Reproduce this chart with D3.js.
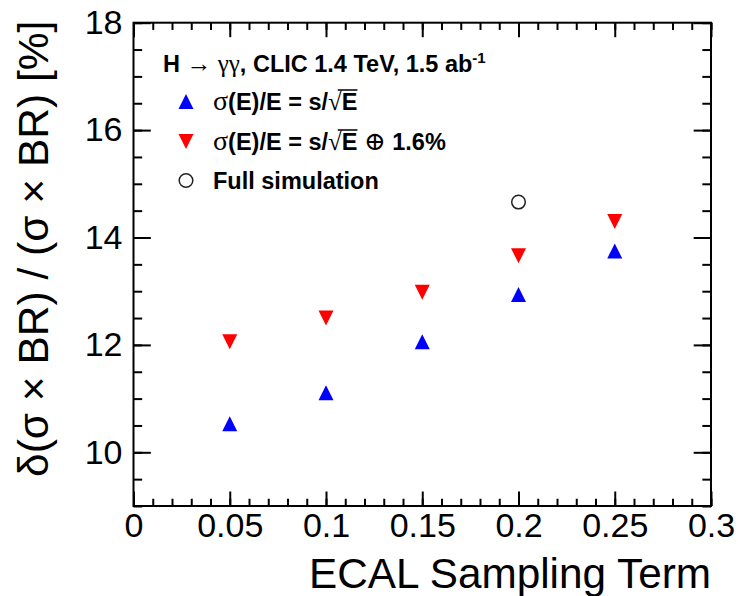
<!DOCTYPE html>
<html>
<head>
<meta charset="utf-8">
<script src="https://cdn.jsdelivr.net/npm/d3@7"></script>
<style>
  body { margin: 0; background: #fff; }
  svg { display: block; }
</style>
</head>
<body>
<div id="chart"></div>
<script>
// values
const samplingTerms = [0.05, 0.1, 0.15, 0.2, 0.25];
const stochasticOnly = [10.53, 11.11, 12.06, 12.94, 13.75];   // blue, s/sqrt(E)
const withConstant = [12.06, 12.50, 12.98, 13.66, 14.30];     // red, s/sqrt(E) (+) 1.6%
const fullSimTerms = [0.2];
const fullSimValues = [14.66];

const xTicks = [0, 0.05, 0.1, 0.15, 0.2, 0.25, 0.3];
const xTickLabels = ["0", "0.05", "0.1", "0.15", "0.2", "0.25", "0.3"];
const yTicks = [10, 12, 14, 16, 18];
const yTickLabels = ["10", "12", "14", "16", "18"];

const W = 738, H = 596;
const frame = { left: 133.5, right: 711, top: 22.7, bottom: 506 };
const font = "'Liberation Sans', Arial, Helvetica, sans-serif";
const symFont = "'Liberation Serif', 'DejaVu Serif', serif";

const svg = d3.select("#chart").append("svg")
  .attr("width", W)
  .attr("height", H);

const x = d3.scaleLinear().domain([0, 0.3]).range([frame.left, frame.right]);
const y = d3.scaleLinear().domain([9, 18]).range([frame.bottom, frame.top]);

const plotW = frame.right - frame.left;
const plotH = frame.bottom - frame.top;
const xMajorLen = plotH * 0.03, yMajorLen = plotW * 0.03;

const xMinor = d3.range(0, 0.3001, 0.01);
const yMinor = d3.range(9, 18.001, 0.5);

function styleAxis(g) {
  g.select(".domain").remove();
  g.selectAll("line").attr("stroke", "#000").attr("stroke-width", 2);
  g.selectAll("text").attr("fill", "#000").style("font-family", font).style("font-size", "34px");
}

// bottom axis
svg.append("g").attr("transform", `translate(0,${frame.bottom})`)
  .call(d3.axisBottom(x).tickValues(xMinor).tickSize(-xMajorLen / 2).tickFormat(""))
  .call(styleAxis);
svg.append("g").attr("transform", `translate(0,${frame.bottom})`)
  .call(d3.axisBottom(x).tickValues(xTicks).tickSize(-xMajorLen).tickPadding(7)
    .tickFormat((d, i) => xTickLabels[i]))
  .call(styleAxis);
// top axis
svg.append("g").attr("transform", `translate(0,${frame.top})`)
  .call(d3.axisTop(x).tickValues(xMinor).tickSize(-xMajorLen / 2).tickFormat(""))
  .call(styleAxis);
svg.append("g").attr("transform", `translate(0,${frame.top})`)
  .call(d3.axisTop(x).tickValues(xTicks).tickSize(-xMajorLen).tickFormat(""))
  .call(styleAxis);
// left axis
svg.append("g").attr("transform", `translate(${frame.left},0)`)
  .call(d3.axisLeft(y).tickValues(yMinor).tickSize(-yMajorLen / 2).tickFormat(""))
  .call(styleAxis);
svg.append("g").attr("transform", `translate(${frame.left},0)`)
  .call(d3.axisLeft(y).tickValues(yTicks).tickSize(-yMajorLen).tickPadding(11)
    .tickFormat((d, i) => yTickLabels[i]))
  .call(styleAxis);
// right axis
svg.append("g").attr("transform", `translate(${frame.right},0)`)
  .call(d3.axisRight(y).tickValues(yMinor).tickSize(-yMajorLen / 2).tickFormat(""))
  .call(styleAxis);
svg.append("g").attr("transform", `translate(${frame.right},0)`)
  .call(d3.axisRight(y).tickValues(yTicks).tickSize(-yMajorLen).tickFormat(""))
  .call(styleAxis);

// frame
svg.append("rect")
  .attr("x", frame.left).attr("y", frame.top)
  .attr("width", plotW).attr("height", plotH)
  .attr("fill", "none").attr("stroke", "#000").attr("stroke-width", 2);

// axis titles
svg.append("text")
  .attr("x", frame.right).attr("y", 588)
  .attr("text-anchor", "end")
  .style("font-family", font).style("font-size", "42.3px")
  .text("ECAL Sampling Term");

svg.append("text")
  .attr("transform", `translate(48,${frame.top - 2}) rotate(-90)`)
  .attr("text-anchor", "end")
  .style("font-family", font).style("font-size", "42.5px")
  .text("δ(σ × BR) / (σ × BR) [%]");

// markers
const ms = 7.5;
function triUp(cx, cy) { return `M${cx - ms},${cy + ms}L${cx + ms},${cy + ms}L${cx},${cy - ms}Z`; }
function triDown(cx, cy) { return `M${cx - ms},${cy - ms}L${cx + ms},${cy - ms}L${cx},${cy + ms}Z`; }

svg.append("g").selectAll("path")
  .data(samplingTerms.map((s, i) => [s, stochasticOnly[i]]))
  .join("path")
  .attr("d", d => triUp(x(d[0]), y(d[1])))
  .attr("fill", "#0000ff");

svg.append("g").selectAll("path")
  .data(samplingTerms.map((s, i) => [s, withConstant[i]]))
  .join("path")
  .attr("d", d => triDown(x(d[0]), y(d[1])))
  .attr("fill", "#ff0000");

svg.append("g").selectAll("circle")
  .data(fullSimTerms.map((s, i) => [s, fullSimValues[i]]))
  .join("circle")
  .attr("cx", d => x(d[0])).attr("cy", d => y(d[1]))
  .attr("r", 6.8)
  .attr("fill", "none").attr("stroke", "#222").attr("stroke-width", 1.5);

// legend
const leg = svg.append("g").style("font-family", font).style("font-size", "23.5px").style("font-weight", "bold");

const header = leg.append("text").attr("x", 163).attr("y", 72);
header.append("tspan").text("H ");
header.append("tspan").style("font-family", symFont).style("font-weight", "normal").style("font-size", "25px").text("→ γγ");
header.append("tspan").text(", CLIC 1.4 TeV, 1.5 ab");
header.append("tspan").attr("dy", -9).style("font-size", "15px").text("-1");

const markX = 186, textX = 213;
const rows = [110, 150, 189];

leg.append("path").attr("d", triUp(markX, rows[0] - 8.5)).attr("fill", "#0000ff");
leg.append("path").attr("d", triDown(markX, rows[1] - 8.5)).attr("fill", "#ff0000");
leg.append("circle").attr("cx", markX).attr("cy", rows[2] - 8.5).attr("r", 6.8)
  .attr("fill", "none").attr("stroke", "#222").attr("stroke-width", 1.5);

function resolutionLabel(yPos, extra) {
  const t = leg.append("text").attr("x", textX).attr("y", yPos);
  t.append("tspan").style("font-family", symFont).style("font-weight", "normal").style("font-size", "28px").text("σ");
  t.append("tspan").text("(E)/E = s/");
  t.append("tspan").style("font-family", symFont).style("font-weight", "normal").style("font-size", "25px").text("√");
  const e = t.append("tspan").text("E");
  if (extra) {
    t.append("tspan").style("font-family", symFont).style("font-weight", "normal").style("font-size", "26px").text(" ⊕ ");
    t.append("tspan").text("1.6%");
  }
  const b = e.node().getBBox();
  leg.append("line")
    .attr("x1", b.x - 4).attr("x2", b.x + b.width)
    .attr("y1", b.y + 1).attr("y2", b.y + 1)
    .attr("stroke", "#000").attr("stroke-width", 1.5);
}
resolutionLabel(rows[0], false);
resolutionLabel(rows[1], true);

leg.append("text").attr("x", textX).attr("y", rows[2]).text("Full simulation");
</script>
</body>
</html>
